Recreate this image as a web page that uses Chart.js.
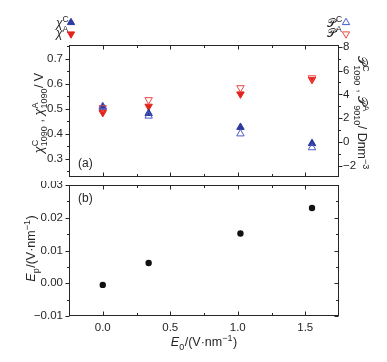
<!DOCTYPE html>
<html>
<head>
<meta charset="utf-8">
<script src="https://cdn.jsdelivr.net/npm/chart.js@4.4.0/dist/chart.umd.min.js"></script>
<style>
  body { margin: 0; background: #fff; width: 387px; height: 362px; position: relative; overflow: hidden; }
  canvas { position: absolute; left: 0; }
  #top { top: 0; }
  #bot { top: 181px; }
</style>
</head>
<body>
<canvas id="top" width="387" height="182"></canvas>
<canvas id="bot" width="387" height="181"></canvas>
<script>
"use strict";

// field strength E0 (V/nm)
const e0 = [0, 0.34, 1.02, 1.55];
// top panel, left axis (V)
const chiC = [0.507, 0.482, 0.4265, 0.362];
const chiA = [0.485, 0.510, 0.559, 0.617];
// top panel, right axis (D nm^-3)
const pC = [2.98, 2.18, 0.68, -0.49];
const pA = [2.86, 3.54, 4.55, 5.39];
// bottom panel (V/nm)
const ep = [-0.0005, 0.0062, 0.0152, 0.023];

const xTicks = [0, 0.5, 1.0, 1.5];
const xMinor = [0.25, 0.75, 1.25];
const chiTicks = [0.3, 0.4, 0.5, 0.6, 0.7];
const chiMinor = [0.25, 0.35, 0.45, 0.55, 0.65, 0.75];
const pTicks = [-2, 0, 2, 4, 6, 8];
const pMinor = [-1, 1, 3, 5, 7];
const epTicks = [-0.01, 0, 0.01, 0.02, 0.03];
const epMinor = [-0.005, 0.005, 0.015, 0.025];

const INK = "#262626";
const FONT = '"Liberation Sans", Arial, sans-serif';
const BLUE = "#2b3a9c";
const RED = "#e5231d";
const BLUE_OPEN = "#4b5cc6";
const RED_OPEN = "#ee4747";
const SCRIPT_P = "\u{1D4AB}";
const MARK = 4.3;

const minus = (s) => String(s).replace("-", "\u2212");
const pts = (ys) => ys.map((y, i) => ({ x: e0[i], y }));

// draws text with stacked super/subscripts, starting at (0,0) baseline
function richWidth(ctx, parts, size) {
    let w = 0;
    parts.forEach(p => {
        if (p.t !== undefined) {
            ctx.font = `${p.i ? "italic " : ""}${size}px ${FONT}`;
            w += ctx.measureText(p.t).width;
        } else {
            ctx.font = `${size * 0.72}px ${FONT}`;
            w += Math.max(p.sup ? ctx.measureText(p.sup).width : 0, p.sub ? ctx.measureText(p.sub).width : 0) + 0.5;
        }
    });
    return w;
}
function drawRich(ctx, parts, size, x, y, rot, align) {
    ctx.save();
    ctx.translate(x, y);
    ctx.rotate(rot || 0);
    const w = richWidth(ctx, parts, size);
    let cx = align === "center" ? -w / 2 : 0;
    ctx.fillStyle = INK;
    ctx.textBaseline = "alphabetic";
    ctx.textAlign = "left";
    parts.forEach(p => {
        if (p.t !== undefined) {
            ctx.font = `${p.i ? "italic " : ""}${size}px ${FONT}`;
            ctx.fillText(p.t, cx, size * 0.35);
            cx += ctx.measureText(p.t).width;
        } else {
            ctx.font = `${size * 0.72}px ${FONT}`;
            let ww = 0;
            if (p.sup) { ctx.fillText(p.sup, cx, size * 0.35 - size * 0.45); ww = ctx.measureText(p.sup).width; }
            if (p.sub) { ctx.fillText(p.sub, cx, size * 0.35 + size * 0.3); ww = Math.max(ww, ctx.measureText(p.sub).width); }
            cx += ww + 0.5;
        }
    });
    ctx.restore();
}

function tri(ctx, x, y, r, down, fill, stroke) {
    const s = down ? -1 : 1;
    ctx.beginPath();
    ctx.moveTo(x, y - s * r);
    ctx.lineTo(x + r * 0.87, y + s * r * 0.5);
    ctx.lineTo(x - r * 0.87, y + s * r * 0.5);
    ctx.closePath();
    if (fill) { ctx.fillStyle = fill; ctx.fill(); }
    if (stroke) { ctx.strokeStyle = stroke; ctx.lineWidth = 1; ctx.stroke(); }
}

// frame plus tick marks (y outward, x inward)
const frameTicks = {
    id: "frameTicks",
    afterDraw(chart, args, o) {
        const { ctx, chartArea: a, scales } = chart;
        const L = Math.round(a.left) + 0.5, R = Math.round(a.right) - 0.5;
        const T = Math.round(a.top) + 0.5, B = Math.round(a.bottom) - 0.5;
        ctx.save();
        ctx.strokeStyle = INK;
        ctx.lineWidth = 1;
        ctx.strokeRect(L, T, R - L, B - T);
        ctx.beginPath();
        const xt = (vals, len) => vals.forEach(v => {
            const px = Math.round(scales.x.getPixelForValue(v)) + 0.5;
            ctx.moveTo(px, T); ctx.lineTo(px, T + len);
            ctx.moveTo(px, B); ctx.lineTo(px, B - len);
        });
        xt(xTicks, 4); xt(xMinor, 2.5);
        const yt = (sc, vals, len, x0, dir) => vals.forEach(v => {
            const py = Math.round(sc.getPixelForValue(v)) + 0.5;
            ctx.moveTo(x0, py); ctx.lineTo(x0 + dir * len, py);
        });
        yt(scales.y, o.yMajor, 4, L, -1); yt(scales.y, o.yMinor, 2.5, L, -1);
        if (scales.y1) {
            yt(scales.y1, pTicks, 4, R, 1); yt(scales.y1, pMinor, 2.5, R, 1);
        } else {
            yt(scales.y, o.yMajor, 4, R, -1); yt(scales.y, o.yMinor, 2.5, R, -1);
        }
        ctx.stroke();
        ctx.restore();
        if (o.extra) o.extra(ctx, a);
    }
};

const tickFont = { family: FONT, size: 11.5 };
const noPad = (s) => { s.paddingTop = 0; s.paddingBottom = 0; s.paddingLeft = 0; s.paddingRight = 0; };

new Chart(document.getElementById("top"), {
    type: "scatter",
    data: {
        datasets: [
            { label: "PC", data: pts(pC), yAxisID: "y1", pointStyle: "triangle", pointRadius: MARK,
              backgroundColor: "rgba(255,255,255,0)", borderColor: BLUE_OPEN, borderWidth: 1 },
            { label: "PA", data: pts(pA), yAxisID: "y1", pointStyle: "triangle", rotation: 180, pointRadius: MARK,
              backgroundColor: "rgba(255,255,255,0)", borderColor: RED_OPEN, borderWidth: 1 },
            { label: "chiC", data: pts(chiC), yAxisID: "y", pointStyle: "triangle", pointRadius: MARK,
              backgroundColor: BLUE, borderColor: BLUE, borderWidth: 1 },
            { label: "chiA", data: pts(chiA), yAxisID: "y", pointStyle: "triangle", rotation: 180, pointRadius: MARK,
              backgroundColor: RED, borderColor: RED, borderWidth: 1 },
        ],
    },
    options: {
        responsive: false,
        animation: false,
        layout: { padding: { top: 45, bottom: 1, left: 0, right: 0 } },
        plugins: {
            legend: { display: false },
            tooltip: { enabled: false },
            frameTicks: {
                yMajor: chiTicks, yMinor: chiMinor,
                extra(ctx) {
                    drawRich(ctx, [{ t: "χ", i: true }, { sup: "C", sub: "1090" }, { t: " , " },
                        { t: "χ", i: true }, { sup: "A", sub: "1090" }, { t: "/ V" }], 12.5, 39, 113, -Math.PI / 2, "center");
                    drawRich(ctx, [{ t: SCRIPT_P }, { sup: "C", sub: "1090" }, { t: " , " },
                        { t: SCRIPT_P }, { sup: "A", sub: "9010" }, { t: "/ Dnm" }, { sup: "\u22123" }], 12.5, 362, 113, Math.PI / 2, "center");
                    // legends
                    drawRich(ctx, [{ t: "χ", i: true }, { sup: "C" }], 12, 56, 23, 0, "left");
                    drawRich(ctx, [{ t: "χ", i: true }, { sup: "A" }], 12, 56, 33, 0, "left");
                    tri(ctx, 71, 22.5, 4.2, false, BLUE, BLUE);
                    tri(ctx, 71, 34, 4.2, true, RED, RED);
                    drawRich(ctx, [{ t: SCRIPT_P }, { sup: "C" }], 12, 327, 23, 0, "left");
                    drawRich(ctx, [{ t: SCRIPT_P }, { sup: "A" }], 12, 327, 33, 0, "left");
                    tri(ctx, 346, 22.5, 4.2, false, null, BLUE_OPEN);
                    tri(ctx, 346, 34, 4.2, true, null, RED_OPEN);
                    ctx.fillStyle = INK;
                    ctx.font = `12px ${FONT}`;
                    ctx.textBaseline = "middle";
                    ctx.fillText("(a)", 78, 164);
                },
            },
        },
        scales: {
            x: { type: "linear", min: -0.25, max: 1.75, display: false },
            y: {
                position: "left", min: 0.229, max: 0.755,
                grid: { display: false, drawTicks: false }, border: { display: false },
                ticks: { font: tickFont, color: INK, padding: 6, callback: v => v.toFixed(1) },
                afterBuildTicks: s => { s.ticks = chiTicks.map(v => ({ value: v })); },
                afterFit: s => { s.width = 69; noPad(s); },
            },
            y1: {
                position: "right", min: -2.94, max: 8.16,
                grid: { display: false, drawTicks: false }, border: { display: false },
                ticks: { font: tickFont, color: INK, padding: 4, callback: v => minus(v) },
                afterBuildTicks: s => { s.ticks = pTicks.map(v => ({ value: v })); },
                afterFit: s => { s.width = 48; noPad(s); },
            },
        },
    },
    plugins: [frameTicks],
});

new Chart(document.getElementById("bot"), {
    type: "scatter",
    data: {
        datasets: [
            { label: "Ep", data: pts(ep), pointStyle: "circle", pointRadius: 3.2,
              backgroundColor: "#111", borderColor: "#111", borderWidth: 0 },
        ],
    },
    options: {
        responsive: false,
        animation: false,
        layout: { padding: { top: 0, bottom: 0, left: 0, right: 48 } },
        plugins: {
            legend: { display: false },
            tooltip: { enabled: false },
            frameTicks: {
                yMajor: epTicks, yMinor: epMinor,
                extra(ctx) {
                    drawRich(ctx, [{ t: "E", i: true }, { sub: "p" }, { t: "/(V·nm" }, { sup: "\u22121" }, { t: ")" }],
                        12.5, 31, 67.5, -Math.PI / 2, "center");
                    drawRich(ctx, [{ t: "E", i: true }, { sub: "0" }, { t: "/(V·nm" }, { sup: "\u22121" }, { t: ")" }],
                        12.5, 204, 161, 0, "center");
                    ctx.fillStyle = INK;
                    ctx.font = `12px ${FONT}`;
                    ctx.textBaseline = "middle";
                    ctx.fillText("(b)", 78, 18);
                },
            },
        },
        scales: {
            x: {
                type: "linear", min: -0.25, max: 1.75,
                grid: { display: false, drawTicks: false }, border: { display: false },
                ticks: { font: tickFont, color: INK, padding: 5, callback: v => v.toFixed(1) },
                afterBuildTicks: s => { s.ticks = xTicks.map(v => ({ value: v })); },
                afterFit: s => { s.height = 46; noPad(s); },
            },
            y: {
                min: -0.01, max: 0.03,
                grid: { display: false, drawTicks: false }, border: { display: false },
                ticks: { font: tickFont, color: INK, padding: 6, callback: v => minus(v.toFixed(2)) },
                afterBuildTicks: s => { s.ticks = epTicks.map(v => ({ value: v })); },
                afterFit: s => { s.width = 69; noPad(s); },
            },
        },
    },
    plugins: [frameTicks],
});
</script>
</body>
</html>
